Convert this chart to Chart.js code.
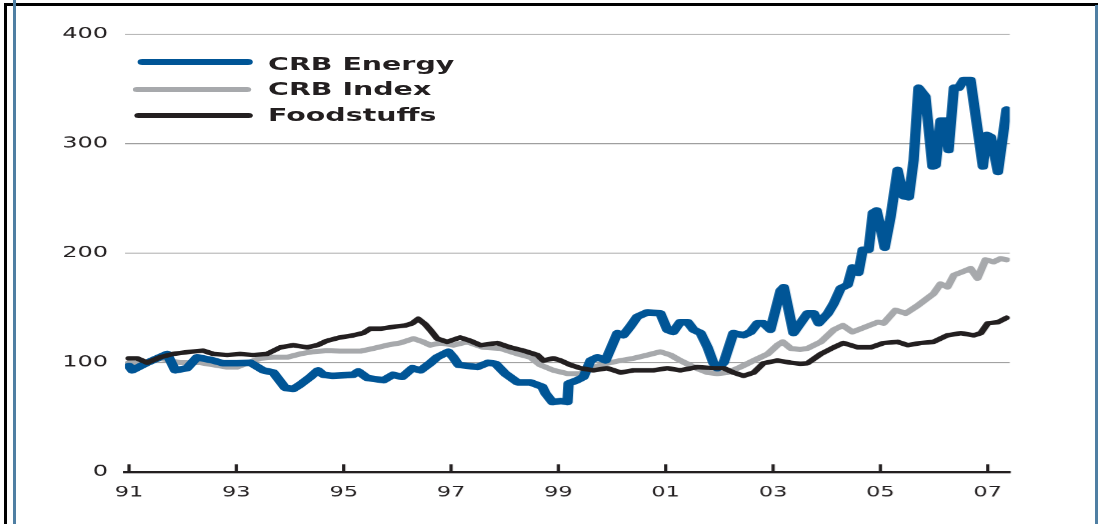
<!DOCTYPE html>
<html>
<head>
<meta charset="utf-8">
<script src="https://cdn.jsdelivr.net/npm/chart.js@4.4.1/dist/chart.umd.min.js"></script>
<style>
  html, body { margin: 0; padding: 0; background: #fff; overflow: hidden; }
  body { width: 1099px; height: 524px; position: relative; }
  #wrap { position: absolute; left: 0; top: 0; width: 687px; height: 524px; transform: scaleX(1.6); transform-origin: 0 0; }
  #chart { position: absolute; left: 0; top: 0; }
  .lg-line { position: absolute; border-radius: 3px; }
  .lg-text { position: absolute; font-family: "DejaVu Sans", sans-serif; font-weight: bold; font-size: 17.8px; line-height: 18px; color: #231f20; white-space: nowrap; }
  .frame { position: absolute; }
</style>
</head>
<body>
<div class="frame" style="left:4px;top:3px;width:3px;height:521px;background:#000;"></div>
<div class="frame" style="left:4px;top:3px;width:1094px;height:3px;background:#000;"></div>
<div class="frame" style="left:13px;top:0px;width:3px;height:524px;background:#4f7fa3;"></div>
<div class="frame" style="left:1095px;top:5px;width:3px;height:519px;background:#4f7fa3;"></div>
<div id="wrap">
  <canvas id="chart" width="687" height="524"></canvas>
  <div class="lg-line" style="left:85.6px;top:59.3px;width:72.5px;height:5.5px;background:#005596;"></div>
  <div class="lg-line" style="left:83.2px;top:86.8px;width:74.3px;height:5px;background:#a7a9ac;"></div>
  <div class="lg-line" style="left:84.4px;top:112.5px;width:73.7px;height:5px;background:#231f20;"></div>
  <div class="lg-text" id="lg0" style="left:167.5px;top:54.8px;"></div>
  <div class="lg-text" id="lg1" style="left:167.5px;top:79.8px;"></div>
  <div class="lg-text" id="lg2" style="left:167.5px;top:105.5px;"></div>
</div>
<script>
// ---- Data ----
const seriesNames = ['CRB Energy', 'CRB Index', 'Foodstuffs'];
const tickYears = [1991, 1993, 1995, 1997, 1999, 2001, 2003, 2005, 2007];
const tickLabels = ['91', '93', '95', '97', '99', '01', '03', '05', '07'];

const energyYears = [1991.00,1991.06,1991.34,1991.71,1991.86,1992.08,1992.27,1992.57,1992.75,1993.01,1993.26,1993.50,1993.69,1993.91,1994.06,1994.19,1994.38,1994.52,1994.62,1994.80,1995.18,1995.27,1995.44,1995.74,1995.92,1996.09,1996.28,1996.43,1996.61,1996.74,1996.95,1997.04,1997.14,1997.49,1997.69,1997.83,1998.01,1998.24,1998.48,1998.70,1998.76,1998.89,1999.04,1999.17,1999.19,1999.35,1999.47,1999.60,1999.73,1999.88,2000.10,2000.21,2000.34,2000.47,2000.66,2000.90,2001.03,2001.14,2001.27,2001.41,2001.52,2001.65,2001.78,2001.89,2001.96,2002.08,2002.26,2002.45,2002.58,2002.71,2002.82,2002.95,2003.14,2003.20,2003.38,2003.64,2003.76,2003.85,2004.02,2004.13,2004.26,2004.39,2004.48,2004.59,2004.67,2004.78,2004.86,2004.93,2005.00,2005.08,2005.19,2005.32,2005.43,2005.53,2005.62,2005.71,2005.84,2005.97,2006.03,2006.12,2006.22,2006.27,2006.37,2006.46,2006.55,2006.68,2006.91,2006.98,2007.06,2007.19,2007.35];
const energyValues = [97,93,100,108,93,95,105,102,99.5,99.5,100,93,91,77,76,80,87,93,89,88,89,92,86,84,89,87,95,93,99.5,105,110,105,98,96,100,99,90,82,82,78,72,64,65,64,81,84,87,102,105,102,127,125,133,142,146,145,130,128,137,137,130,127,114,99.5,95,100,127,125,128,136,136,130,166,169,127,145,145,136,145,154,168,171,187,182,203,203,237,239,224,205,233,276,252,251,285,351,343,279,280,321,321,294,351,351,358,358,279,308,306,274,331];

const indexYears = [1991.00,1991.34,1991.58,1991.76,1991.95,1992.32,1992.57,1992.83,1993.01,1993.20,1993.44,1993.69,1993.95,1994.19,1994.43,1994.69,1994.93,1995.31,1995.55,1995.81,1996.05,1996.30,1996.48,1996.61,1996.80,1997.04,1997.30,1997.60,1997.92,1998.24,1998.48,1998.66,1998.91,1999.17,1999.41,1999.60,1999.91,2000.16,2000.40,2000.66,2000.90,2001.09,2001.27,2001.52,2001.78,2001.96,2002.15,2002.39,2002.64,2002.90,2003.08,2003.18,2003.33,2003.51,2003.64,2003.89,2004.13,2004.30,2004.48,2004.69,2004.95,2005.06,2005.28,2005.47,2005.69,2005.88,2005.99,2006.12,2006.25,2006.37,2006.53,2006.68,2006.81,2006.96,2007.11,2007.24,2007.35];
const indexValues = [100,99.5,104,102,100,100,98,96,96,99.5,104,105,105,108,110,111,110.5,110.5,113,116,118,122,119,116,118,116,119,114,113,108,105,98,93,90,90,95,99.5,102,104,107,110,107,102,96,91,90,91,96,102,108,116,119,113,112,113,119,130,134,128,132,137,136,148,145,152,159,163,172,169,180,183,186,177,194,192,195,194];

const foodYears = [1991.00,1991.15,1991.34,1991.58,1991.82,1992.14,1992.38,1992.57,1992.83,1993.07,1993.31,1993.57,1993.82,1994.06,1994.32,1994.51,1994.69,1994.93,1995.18,1995.36,1995.49,1995.68,1995.96,1996.15,1996.28,1996.39,1996.52,1996.61,1996.74,1996.93,1997.17,1997.36,1997.55,1997.86,1998.10,1998.35,1998.61,1998.72,1998.91,1999.04,1999.22,1999.41,1999.65,1999.91,2000.16,2000.40,2000.77,2001.03,2001.27,2001.59,2001.89,2002.08,2002.26,2002.45,2002.64,2002.82,2003.08,2003.33,2003.51,2003.64,2003.89,2004.13,2004.31,2004.58,2004.82,2005.06,2005.32,2005.51,2005.75,2005.99,2006.25,2006.50,2006.74,2006.87,2007.00,2007.19,2007.35];
const foodValues = [104,104,100,105,108,110,111,108,107,108,107,108,114,116,114,116,120,123,125,127,131,131,133,134,136,140,135,130,122,119,123,120,116,118,114,111,107,102,104,102,98,95,93,95,91,93,93,95,93,96,95,95,91,88,91,99.5,102,100,99,99.5,108,114,118,114,114,118,119,116,118,119,125,127,125,127,136,137,141];

const seriesColors = ['#005596', '#a7a9ac', '#231f20'];

// ---- Build ----
function pts(xs, ys) { return xs.map((x, i) => ({ x: x, y: ys[i] })); }

seriesNames.forEach((n, i) => { document.getElementById('lg' + i).textContent = n; });

const tickMarks = {
  id: 'tickMarks',
  afterDraw(chart) {
    const xs = chart.scales.x;
    const ctx = chart.ctx;
    const bottom = chart.chartArea.bottom;
    ctx.save();
    ctx.fillStyle = '#231f20';
    tickYears.forEach(v => {
      const px = xs.getPixelForValue(v);
      ctx.fillRect(px - 1, bottom - 8, 2, 8);
    });
    ctx.restore();
  }
};

const labelFont = { family: 'DejaVu Sans', size: 15 };

new Chart(document.getElementById('chart'), {
  type: 'line',
  data: {
    datasets: [
      { label: seriesNames[2], data: pts(foodYears, foodValues), borderColor: seriesColors[2], borderWidth: 4.5, order: 0 },
      { label: seriesNames[0], data: pts(energyYears, energyValues), borderColor: seriesColors[0], borderWidth: 6.5, order: 1 },
      { label: seriesNames[1], data: pts(indexYears, indexValues), borderColor: seriesColors[1], borderWidth: 5, order: 2 }
    ].map(d => Object.assign(d, { pointRadius: 0, tension: 0, fill: false, borderJoinStyle: 'round', borderCapStyle: 'round' }))
  },
  options: {
    responsive: false,
    animation: false,
    devicePixelRatio: 1.6,
    layout: { padding: { left: 0, right: 56, top: 34, bottom: 0 } },
    plugins: { legend: { display: false }, tooltip: { enabled: false } },
    scales: {
      x: {
        type: 'linear',
        min: 1990.925,
        max: 2007.41,
        afterBuildTicks: s => { s.ticks = tickYears.map(v => ({ value: v })); },
        afterFit: s => { s.height = 52; },
        ticks: {
          autoSkip: false, maxRotation: 0, padding: 12,
          font: { family: 'DejaVu Sans', size: 14 }, color: '#231f20',
          callback: (v, i) => tickLabels[i]
        },
        grid: { display: false, drawTicks: false },
        border: { display: true, color: '#231f20', width: 2.5 }
      },
      y: {
        min: 0, max: 400,
        afterFit: s => { s.width = 78.1; },
        ticks: { stepSize: 100, padding: 10.6, font: labelFont, color: '#231f20' },
        grid: { drawTicks: false, lineWidth: 1, color: c => (c.tick && c.tick.value === 0) ? 'rgba(0,0,0,0)' : '#999999' },
        border: { display: false }
      }
    }
  },
  plugins: [tickMarks]
});
</script>
</body>
</html>
